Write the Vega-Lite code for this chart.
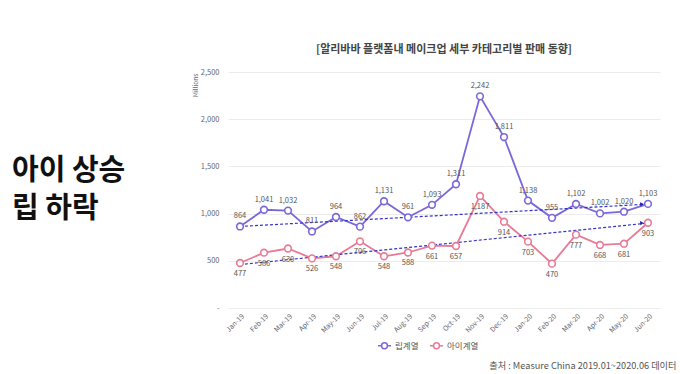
{
  "$schema": "https://vega.github.io/schema/vega-lite/v6.json",
  "padding": {"left": 12, "top": 44, "right": 0, "bottom": 0},
  "background": "white",
  "config": {
    "view": {"stroke": null},
    "font": "Noto Sans CJK KR",
    "concat": {"spacing": 10}
  },
  "datasets": {
    "headline": [
      {"order": 1, "text": "아이 상승"},
      {"order": 2, "text": "립 하락"}
    ],
    "sales": [
      {"month": "Jan-19", "series": "립계열", "value": 864},
      {"month": "Feb-19", "series": "립계열", "value": 1041},
      {"month": "Mar-19", "series": "립계열", "value": 1032},
      {"month": "Apr-19", "series": "립계열", "value": 811},
      {"month": "May-19", "series": "립계열", "value": 964},
      {"month": "Jun-19", "series": "립계열", "value": 862},
      {"month": "Jul-19", "series": "립계열", "value": 1131},
      {"month": "Aug-19", "series": "립계열", "value": 961},
      {"month": "Sep-19", "series": "립계열", "value": 1093},
      {"month": "Oct-19", "series": "립계열", "value": 1311},
      {"month": "Nov-19", "series": "립계열", "value": 2242},
      {"month": "Dec-19", "series": "립계열", "value": 1811},
      {"month": "Jan-20", "series": "립계열", "value": 1138},
      {"month": "Feb-20", "series": "립계열", "value": 955},
      {"month": "Mar-20", "series": "립계열", "value": 1102},
      {"month": "Apr-20", "series": "립계열", "value": 1002},
      {"month": "May-20", "series": "립계열", "value": 1020},
      {"month": "Jun-20", "series": "립계열", "value": 1103},
      {"month": "Jan-19", "series": "아이계열", "value": 477},
      {"month": "Feb-19", "series": "아이계열", "value": 586},
      {"month": "Mar-19", "series": "아이계열", "value": 630},
      {"month": "Apr-19", "series": "아이계열", "value": 526},
      {"month": "May-19", "series": "아이계열", "value": 548},
      {"month": "Jun-19", "series": "아이계열", "value": 706},
      {"month": "Jul-19", "series": "아이계열", "value": 548},
      {"month": "Aug-19", "series": "아이계열", "value": 588},
      {"month": "Sep-19", "series": "아이계열", "value": 661},
      {"month": "Oct-19", "series": "아이계열", "value": 657},
      {"month": "Nov-19", "series": "아이계열", "value": 1187},
      {"month": "Dec-19", "series": "아이계열", "value": 914},
      {"month": "Jan-20", "series": "아이계열", "value": 703},
      {"month": "Feb-20", "series": "아이계열", "value": 470},
      {"month": "Mar-20", "series": "아이계열", "value": 777},
      {"month": "Apr-20", "series": "아이계열", "value": 668},
      {"month": "May-20", "series": "아이계열", "value": 681},
      {"month": "Jun-20", "series": "아이계열", "value": 903}
    ],
    "trend": [
      {"month": "Jan-19", "series": "립계열", "value": 864},
      {"month": "Jun-20", "series": "립계열", "value": 1100},
      {"month": "Jan-19", "series": "아이계열", "value": 460},
      {"month": "Jun-20", "series": "아이계열", "value": 900}
    ]
  },
  "hconcat": [
    {
      "width": 170,
      "height": 236,
      "data": {"name": "headline"},
      "mark": {"type": "text", "align": "left", "baseline": "middle", "fontSize": 29, "fontWeight": "bold", "color": "#111111"},
      "encoding": {
        "x": {"datum": 0, "type": "quantitative", "scale": {"domain": [0, 1]}, "axis": null},
        "y": {"field": "order", "type": "quantitative", "scale": {"domain": [-1.605, 4.605], "reverse": true, "nice": false, "zero": false}, "axis": null},
        "text": {"field": "text"}
      }
    },
    {
      "width": 432,
      "height": 236,
      "title": {"text": "[알리바바 플랫폼내 메이크업 세부 카테고리별 판매 동향]", "fontSize": 11, "fontWeight": "bold", "color": "#444444", "offset": 13, "anchor": "middle"},
      "encoding": {
        "x": {
          "field": "month",
          "type": "ordinal",
          "scale": {"type": "point", "padding": 0.5, "domain": ["Jan-19","Feb-19","Mar-19","Apr-19","May-19","Jun-19","Jul-19","Aug-19","Sep-19","Oct-19","Nov-19","Dec-19","Jan-20","Feb-20","Mar-20","Apr-20","May-20","Jun-20"]},
          "axis": {
            "title": "출처 : Measure China 2019.01~2020.06 데이터",
            "labelAngle": -45,
            "labelFontSize": 7,
            "labelColor": "#666666",
            "ticks": false,
            "domain": false,
            "labelPadding": 4,
            "titleFontSize": 9.2,
            "titleFontWeight": "normal",
            "titleColor": "#555555",
            "titleAnchor": "end",
            "titleAlign": "right",
            "titleBaseline": "middle",
            "titleX": 448,
            "titleY": 57
          }
        },
        "y": {
          "field": "value",
          "type": "quantitative",
          "scale": {"domain": [0, 2500]},
          "axis": {
            "values": [0, 500, 1000, 1500, 2000, 2500],
            "title": "Millions",
            "titleFontSize": 6.5,
            "titleFontWeight": "normal",
            "titleColor": "#666666",
            "titleX": -33,
            "titleY": 13,
            "titleAlign": "center",
            "titleBaseline": "middle",
            "labelExpr": "datum.value == 0 ? '-' : format(datum.value, ',')",
            "labelFontSize": 7.5,
            "labelColor": "#666666",
            "labelPadding": 9,
            "ticks": false,
            "domain": false,
            "gridColor": "#ececec"
          }
        }
      },
      "layer": [
        {
          "data": {"name": "sales"},
          "mark": {"type": "line", "strokeWidth": 1.8},
          "encoding": {
            "color": {
              "field": "series",
              "type": "nominal",
              "scale": {"domain": ["립계열", "아이계열"], "range": ["#7B68D8", "#E87A95"]},
              "legend": {
                "orient": "none",
                "legendX": 365,
                "legendY": 266,
                "direction": "horizontal",
                "title": null,
                "symbolType": "M-1,0H-0.45M0.45,0H1M0.45,0A0.45,0.45 0 1 1 -0.45,0A0.45,0.45 0 1 1 0.45,0",
                "symbolSize": 169,
                "symbolStrokeWidth": 1.5,
                "labelFontSize": 8.5,
                "labelColor": "#555555",
                "columnPadding": 8,
                "labelOffset": 3
              }
            }
          }
        },
        {
          "data": {"name": "trend"},
          "mark": {"type": "line", "strokeDash": [3, 2], "strokeWidth": 1.2, "color": "#3333CC"},
          "encoding": {"detail": {"field": "series"}}
        },
        {
          "data": {"name": "sales"},
          "mark": {"type": "point", "filled": false, "fill": "white", "size": 45, "strokeWidth": 1.6, "opacity": 1},
          "encoding": {
            "color": {"field": "series", "type": "nominal"}
          }
        },
        {
          "data": {"name": "trend"},
          "transform": [{"filter": "datum.month == 'Jun-20'"}],
          "mark": {"type": "point", "shape": "triangle-right", "filled": true, "color": "#2222BB", "size": 18, "xOffset": -6, "angle": -5, "opacity": 1},
          "encoding": {}
        },
        {
          "data": {"name": "sales"},
          "transform": [{"filter": "datum.series == '립계열'"}],
          "mark": {"type": "text", "dy": -10, "fontSize": 7.5, "color": "#555555"},
          "encoding": {"text": {"field": "value", "type": "quantitative", "format": ","}}
        },
        {
          "data": {"name": "sales"},
          "transform": [{"filter": "datum.series == '아이계열'"}],
          "mark": {"type": "text", "dy": 11, "fontSize": 7.5, "color": "#555555"},
          "encoding": {"text": {"field": "value", "type": "quantitative", "format": ","}}
        }
      ]
    }
  ]
}
